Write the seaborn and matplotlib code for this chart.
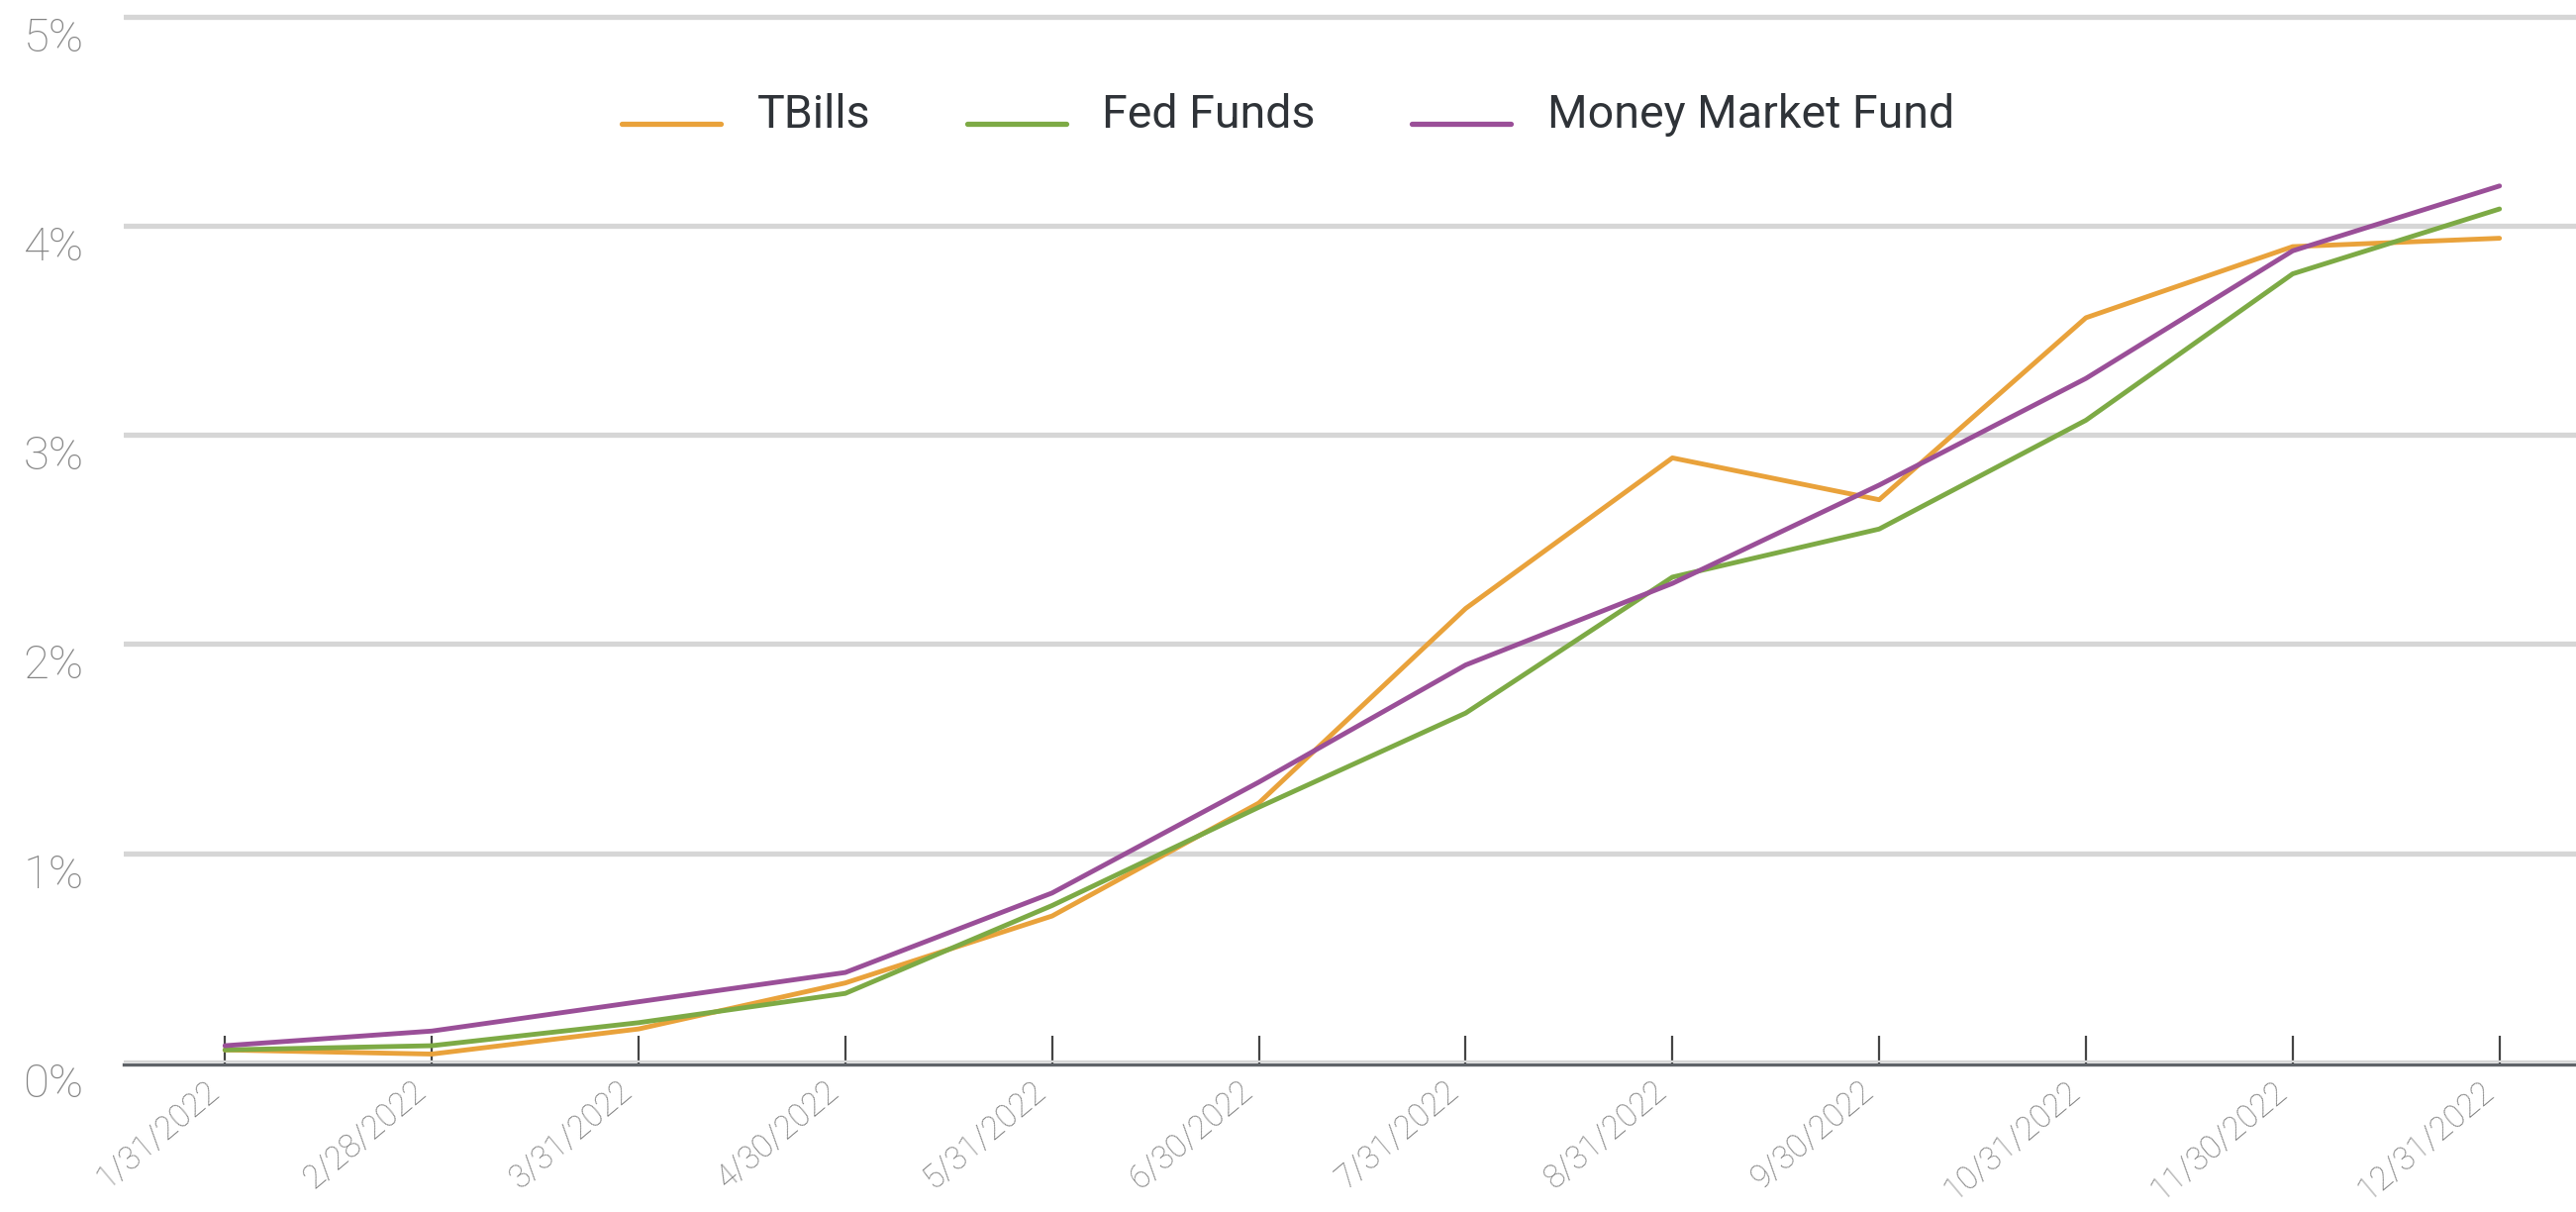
import matplotlib
matplotlib.use("Agg")
import matplotlib.pyplot as plt
import seaborn as sns
import numpy as np
import pandas as pd

# month-end dates shown on the x axis
dates = ["1/31/2022", "2/28/2022", "3/31/2022", "4/30/2022", "5/31/2022", "6/30/2022",
         "7/31/2022", "8/31/2022", "9/30/2022", "10/31/2022", "11/30/2022", "12/31/2022"]

# yields in percent
tbills = [0.06, 0.04, 0.16, 0.38, 0.70, 1.24, 2.17, 2.89, 2.69, 3.56, 3.90, 3.94]
fed_funds = [0.06, 0.08, 0.19, 0.33, 0.75, 1.22, 1.67, 2.32, 2.55, 3.07, 3.77, 4.08]
money_market = [0.08, 0.15, 0.29, 0.43, 0.81, 1.34, 1.90, 2.29, 2.76, 3.27, 3.88, 4.19]

series_names = ["TBills", "Fed Funds", "Money Market Fund"]
y_ticks = [0, 1, 2, 3, 4, 5]
y_labels = ["0%", "1%", "2%", "3%", "4%", "5%"]

colors = {"TBills": "#E9A23B", "Fed Funds": "#7DAA45", "Money Market Fund": "#9A4F98"}

rows = []
for name, vals in zip(series_names, [tbills, fed_funds, money_market]):
    for i, v in enumerate(vals):
        rows.append({"pos": i, "date": dates[i], "value": v, "series": name})
df = pd.DataFrame(rows)

sns.set_style("white")
plt.rcParams["font.family"] = ["Roboto", "DejaVu Sans"]

fig = plt.figure(figsize=(26.02, 12.24), dpi=100)
ax = fig.add_axes([0.048, 0.1234, 0.952, 0.8716])

sns.lineplot(data=df, x="pos", y="value", hue="series", hue_order=series_names,
             palette=colors, linewidth=3.5, ax=ax, sort=False)

ax.set_xlim(-0.49, 11.37)
ax.set_ylim(0, 5.05)

# horizontal grid
ax.set_yticks(y_ticks)
ax.set_yticklabels(y_labels)
ax.yaxis.grid(True, color="#d6d6d6", linewidth=3.8)
ax.xaxis.grid(False)
ax.set_axisbelow(True)

for s in ["top", "right", "left"]:
    ax.spines[s].set_visible(False)
ax.spines["bottom"].set_color("#5f6368")
ax.spines["bottom"].set_linewidth(2.4)
ax.spines["bottom"].set_position(("outward", 1.5))

ax.set_xticks(range(len(dates)))
ax.set_xticklabels(dates, rotation=40, ha="right", fontsize=23.5,
                   color="#7a7a7a", fontweight="light")
# seaborn's white style hides tick marks, turn them back on (pointing up)
ax.tick_params(axis="x", bottom=True, direction="in", length=21, width=1.6,
               color="#444444", pad=8)
ax.tick_params(axis="y", left=False, length=0, pad=29, labelsize=34, labelcolor="#828282")
for lab in ax.get_yticklabels():
    lab.set_va("top")
    lab.set_fontweight("light")

ax.set_xlabel("")
ax.set_ylabel("")

leg = ax.legend(loc="center", bbox_to_anchor=(0.5, 0.905), bbox_transform=fig.transFigure,
                ncol=3, frameon=False, fontsize=33.5, handlelength=2.15, handletextpad=0.78,
                columnspacing=2.1)
for t in leg.get_texts():
    t.set_color("#2f3338")
for h in leg.get_lines():
    h.set_linewidth(3.8)
    # legend swatches sit near the text baseline in the original
    h.set_ydata(np.asarray(h.get_ydata()) - 9)

fig.savefig("out.png", dpi=100)
